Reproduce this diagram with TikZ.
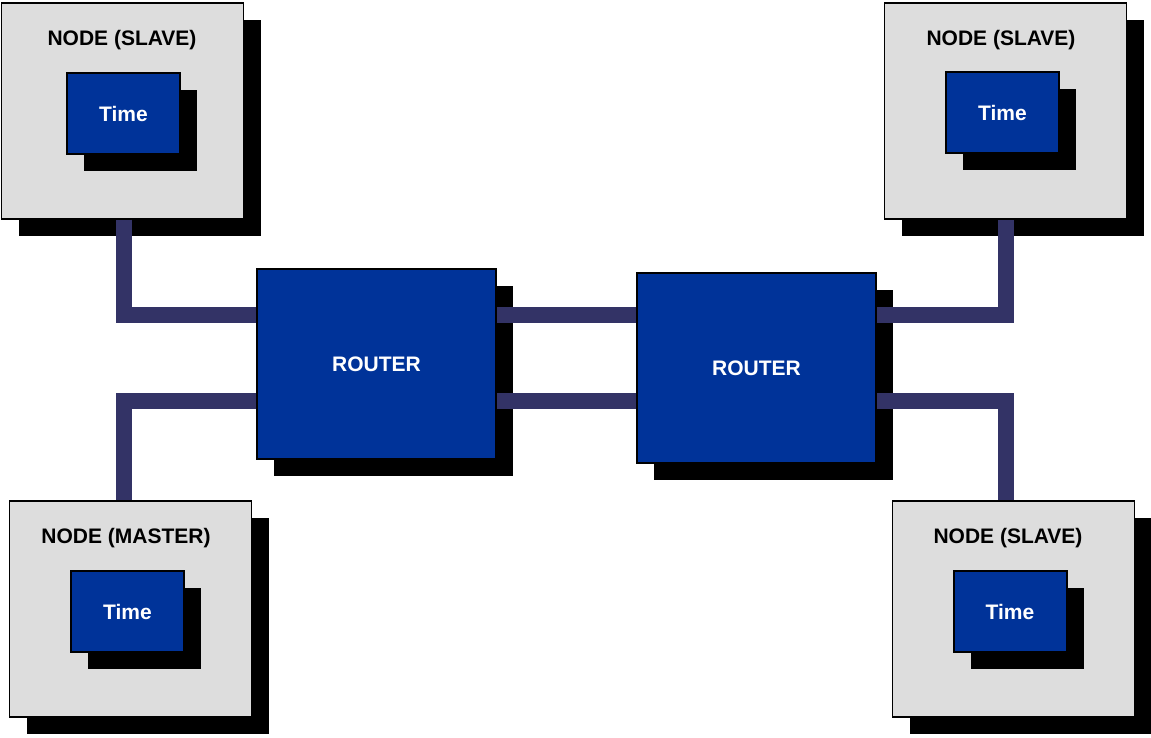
\documentclass[tikz,border=0pt]{standalone}
\usepackage{fontspec}
\setmainfont{Liberation Sans}
\usetikzlibrary{shadows}
\definecolor{nodegray}{HTML}{DDDDDD}
\definecolor{boxblue}{HTML}{003399}
\definecolor{linkcol}{HTML}{333366}
\begin{document}
\begin{tikzpicture}[x=1pt,y=-1pt,
  sh/.style={general shadow={shadow xshift=17pt,shadow yshift=-17pt,fill=black}},
  nodebox/.style={sh,draw=black,line width=1.5pt,fill=nodegray,minimum width=242pt,minimum height=216pt,inner sep=0pt},
  timebox/.style={sh,draw=black,line width=2pt,fill=boxblue,minimum width=113pt,minimum height=81pt,inner sep=0pt,text=white,font=\fontsize{21}{25}\selectfont\bfseries},
  routerbox/.style={sh,draw=black,line width=1.5pt,fill=boxblue,minimum width=239pt,minimum height=190pt,inner sep=0pt,text=white,font=\fontsize{21}{25}\selectfont\bfseries},
  title/.style={inner sep=0pt,text=black,font=\fontsize{21}{25}\selectfont\bfseries},
  conn/.style={draw=linkcol,line width=16pt,line join=miter,line cap=butt}]
\useasboundingbox (0,0) rectangle (1151,738);
% nodes
\node[nodebox] (tl) at (122.5,111) {};
\node[nodebox] (tr) at (1005.5,111) {};
\node[nodebox] (bl) at (130.5,609) {};
\node[nodebox] (br) at (1013.5,609) {};
\node[title] (tlT) at (122,40) {NODE (SLAVE)};
\node[title] (trT) at (1001,40) {NODE (SLAVE)};
\node[title] (blT) at (126,538) {NODE (MASTER)};
\node[title] (brT) at (1008,538) {NODE (SLAVE)};
\node[timebox] (tlt) at (123.5,113.5) {Time};
\node[timebox] (trt) at (1002.5,113) {Time};
\node[timebox] (blt) at (127.5,611.5) {Time};
\node[timebox] (brt) at (1010,611.5) {Time};
\node[routerbox] (r1) at (376.5,364) {ROUTER};
\node[routerbox] (r2) at (756.5,368) {ROUTER};
% connector guides
\coordinate (v1) at (124,315);
\coordinate (v2) at (1006,315);
\coordinate (h1) at (0,315);
\coordinate (h2) at (0,401);
% connectors
\draw[conn] (tl.south -| v1) |- (r1.west |- h1);
\draw[conn] (r1.west |- h2) -| (bl.north -| v1);
\draw[conn] (r1.east |- h1) -- (r2.west |- h1);
\draw[conn] (r1.east |- h2) -- (r2.west |- h2);
\draw[conn] (r2.east |- h1) -| (tr.south -| v2);
\draw[conn] (r2.east |- h2) -| (br.north -| v2);
\end{tikzpicture}
\end{document}
